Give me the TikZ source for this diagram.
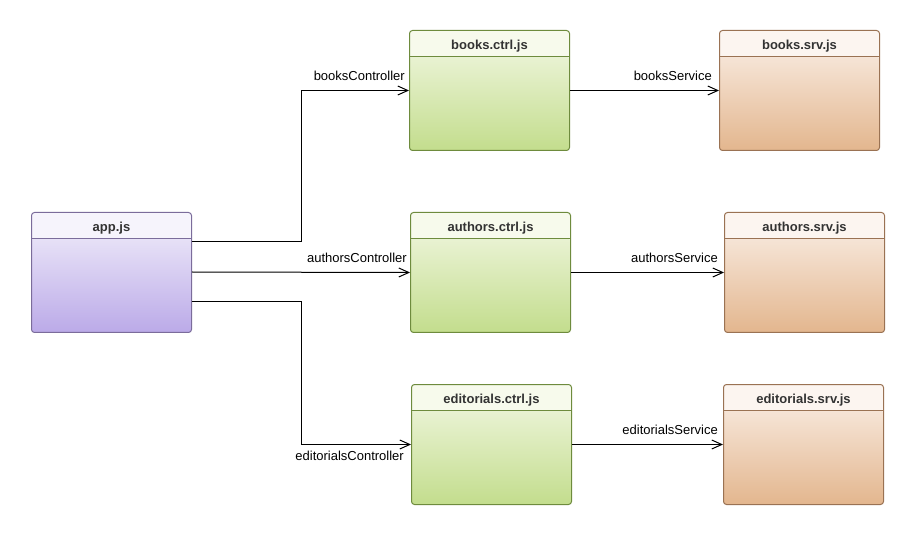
\documentclass[tikz,border=0pt]{standalone}
\usepackage{fontspec}
\setmainfont{Liberation Sans}
\usetikzlibrary{arrows.meta}
\definecolor{pBorder}{HTML}{7B6C9B}
\definecolor{pHead}{HTML}{F6F4FC}
\definecolor{pTop}{HTML}{F3F0FB}
\definecolor{pBot}{HTML}{BBAAE8}
\definecolor{gBorder}{HTML}{6E8B3D}
\definecolor{gHead}{HTML}{F7FAEC}
\definecolor{gTop}{HTML}{F3F8E5}
\definecolor{gBot}{HTML}{C3DD8D}
\definecolor{bBorder}{HTML}{9A7253}
\definecolor{bHead}{HTML}{FCF5F0}
\definecolor{bTop}{HTML}{FBF1EA}
\definecolor{bBot}{HTML}{E3B68E}
\definecolor{titleGray}{HTML}{333333}
\tikzset{
  umlbox/.style n args={4}{
    draw=#1, line width=1pt, rounded corners=3pt,
    minimum width=160pt, minimum height=120pt, inner sep=0pt,
    anchor=north west,
    path picture={
      \shade[top color=#3, bottom color=#4]
        ([yshift=-26pt]path picture bounding box.north west) rectangle (path picture bounding box.south east);
      \fill[#2] (path picture bounding box.north west) rectangle ([yshift=-26pt]path picture bounding box.north east);
      \draw[#1, line width=1pt] ([yshift=-26pt]path picture bounding box.north west) -- ([yshift=-26pt]path picture bounding box.north east);
    }
  },
  appbox/.style={umlbox={pBorder}{pHead}{pTop}{pBot}},
  ctrlbox/.style={umlbox={gBorder}{gHead}{gTop}{gBot}},
  srvbox/.style={umlbox={bBorder}{bHead}{bTop}{bBot}},
  boxtitle/.style={font=\fontsize{13}{15}\selectfont\bfseries, text=titleGray, inner sep=0pt, anchor=base},
  lbl/.style={font=\fontsize{13}{15}\selectfont, inner sep=0pt},
  conn/.style={line width=1pt, -{Straight Barb[length=10pt,width=9pt]}},
}
\begin{document}
\begin{tikzpicture}[x=1pt,y=-1pt]
\useasboundingbox (0,0) rectangle (915,534);
% boxes
\node[appbox] (app) at (31,212) {};
\node[ctrlbox] (bctrl) at (409,30) {};
\node[ctrlbox] (actrl) at (410,212) {};
\node[ctrlbox] (ectrl) at (411,384) {};
\node[srvbox] (bsrv) at (719,30) {};
\node[srvbox] (asrv) at (724,212) {};
\node[srvbox] (esrv) at (723,384) {};
% titles
\node[boxtitle] (appT) at ([yshift=-19.5pt]app.north) {app.js};
\node[boxtitle] (bctrlT) at ([yshift=-19.5pt]bctrl.north) {books.ctrl.js};
\node[boxtitle] (actrlT) at ([yshift=-19.5pt]actrl.north) {authors.ctrl.js};
\node[boxtitle] (ectrlT) at ([yshift=-19.5pt]ectrl.north) {editorials.ctrl.js};
\node[boxtitle] (bsrvT) at ([yshift=-19.5pt]bsrv.north) {books.srv.js};
\node[boxtitle] (asrvT) at ([yshift=-19.5pt]asrv.north) {authors.srv.js};
\node[boxtitle] (esrvT) at ([yshift=-19.5pt]esrv.north) {editorials.srv.js};
% connectors
\draw[conn] ([yshift=-30pt]app.north east) -- ++(109,0) |- (bctrl.west);
\draw[conn] ([yshift=-60pt]app.north east) -- (actrl.west);
\draw[conn] ([yshift=-90pt]app.north east) -- ++(109,0) |- (ectrl.west);
\draw[conn] (bctrl.east) -- (bsrv.west);
\draw[conn] (actrl.east) -- (asrv.west);
\draw[conn] (ectrl.east) -- (esrv.west);
% labels
\node[lbl, anchor=east] (lbc) at ([xshift=-4pt,yshift=15pt]bctrl.west) {booksController};
\node[lbl, anchor=east] (lac) at ([xshift=-3pt,yshift=15pt]actrl.west) {authorsController};
\node[lbl, anchor=east] (lec) at ([xshift=-7pt,yshift=-11pt]ectrl.west) {editorialsController};
\node[lbl, anchor=east] (lbs) at ([xshift=-7pt,yshift=15pt]bsrv.west) {booksService};
\node[lbl, anchor=east] (las) at ([xshift=-6pt,yshift=15pt]asrv.west) {authorsService};
\node[lbl, anchor=east] (les) at ([xshift=-5pt,yshift=15pt]esrv.west) {editorialsService};
\end{tikzpicture}
\end{document}
